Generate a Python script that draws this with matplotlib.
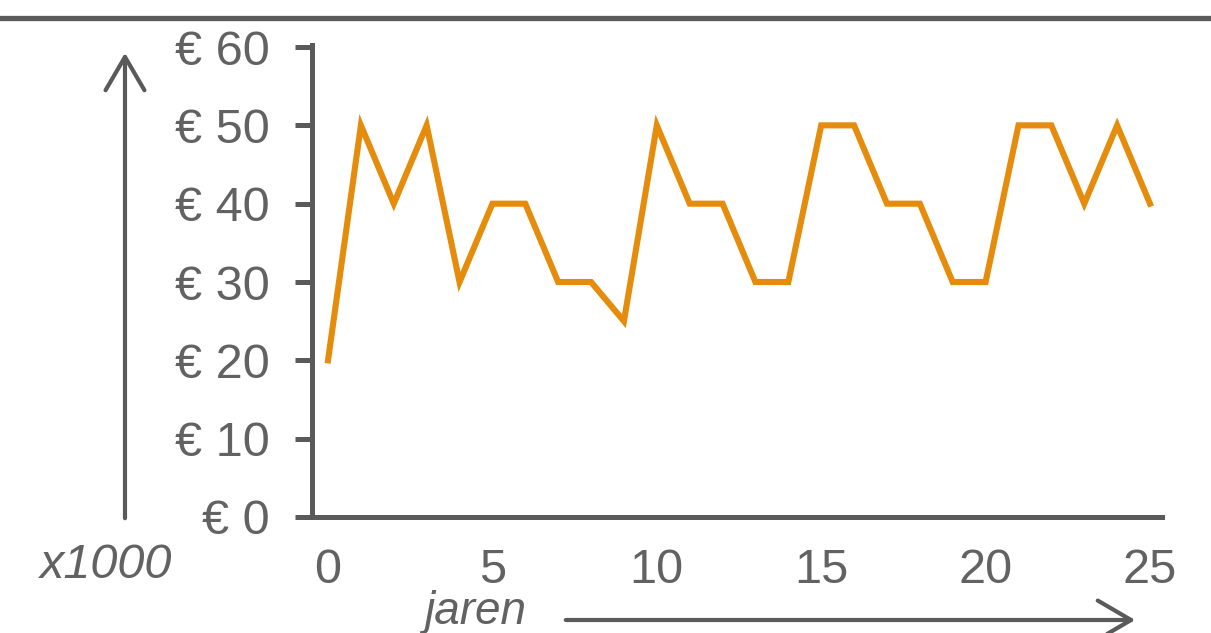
import matplotlib.pyplot as plt
from matplotlib.lines import Line2D
from matplotlib.patches import FancyArrowPatch

# 数据: 每年的金额 (x1000 欧元)
years = list(range(26))
amounts = [20, 50, 40, 50, 30, 40, 40, 30, 30, 25, 50, 40, 40, 30, 30,
           50, 50, 40, 40, 30, 30, 50, 50, 40, 50, 40]
y_ticks = [0, 10, 20, 30, 40, 50, 60]
y_tick_labels = ["€ 0", "€ 10", "€ 20", "€ 30", "€ 40", "€ 50", "€ 60"]
x_ticks = [0, 5, 10, 15, 20, 25]
x_label = "jaren"
unit_label = "x1000"

W, H = 1211, 633
AXIS_COLOR = "#5a5a5a"
TEXT_COLOR = "#626262"
LINE_COLOR = "#e58c0c"

plt.rcParams["font.family"] = ["Liberation Sans", "DejaVu Sans"]


def fx(px: float) -> float:
    """像素 x 坐标 -> figure fraction"""
    return px / W


def fy(py: float) -> float:
    """像素 y 坐标 (从上往下) -> figure fraction"""
    return 1 - py / H


def draw_arrow(fig, tail, tip) -> None:
    """在 figure 上画一条开口箭头"""
    arrow = FancyArrowPatch(
        (fx(tail[0]), fy(tail[1])),
        (fx(tip[0]), fy(tip[1])),
        transform=fig.transFigure,
        arrowstyle="->,head_length=24,head_width=14",
        mutation_scale=1,
        lw=3,
        color=AXIS_COLOR,
    )
    fig.add_artist(arrow)


fig = plt.figure(figsize=(W / 100, H / 100), dpi=100)

# 坐标区: 左边 312px, 右边 1162px, 底部 517px, 顶部 45px
ax = fig.add_axes([fx(312), fy(517), fx(1162) - fx(312), (517 - 45) / H])

ax.plot(years, amounts, color=LINE_COLOR, lw=4.4, solid_joinstyle="miter")

ax.set_xlim(-0.487, 25.365)
ax.set_ylim(0, 60.26)

ax.set_yticks(y_ticks, y_tick_labels)
ax.set_xticks(x_ticks, [str(t) for t in x_ticks])

for side in ("top", "right"):
    ax.spines[side].set_visible(False)
for side in ("left", "bottom"):
    ax.spines[side].set_color(AXIS_COLOR)
    ax.spines[side].set_linewidth(3.6)

ax.tick_params(axis="y", direction="out", length=12.2, width=3.6,
               color=AXIS_COLOR, pad=18, labelsize=35, labelcolor=TEXT_COLOR)
ax.tick_params(axis="x", length=0, pad=22, labelsize=35,
               labelcolor=TEXT_COLOR)

# 顶部的横线
fig.add_artist(Line2D([0, 1], [fy(17.5), fy(17.5)], transform=fig.transFigure,
                      color=AXIS_COLOR, lw=3.8))

# 左侧竖直箭头和右下方水平箭头
draw_arrow(fig, (125, 521), (125, 50))
draw_arrow(fig, (563, 620), (1138, 620))

# 单位和 x 轴说明文字
fig.text(fx(40), fy(578), unit_label, style="italic", fontsize=35,
         color=TEXT_COLOR, ha="left", va="baseline")
fig.text(fx(424), fy(624), x_label, style="italic", fontsize=33,
         color=TEXT_COLOR, ha="left", va="baseline")

fig.savefig("out.png", dpi=100)
